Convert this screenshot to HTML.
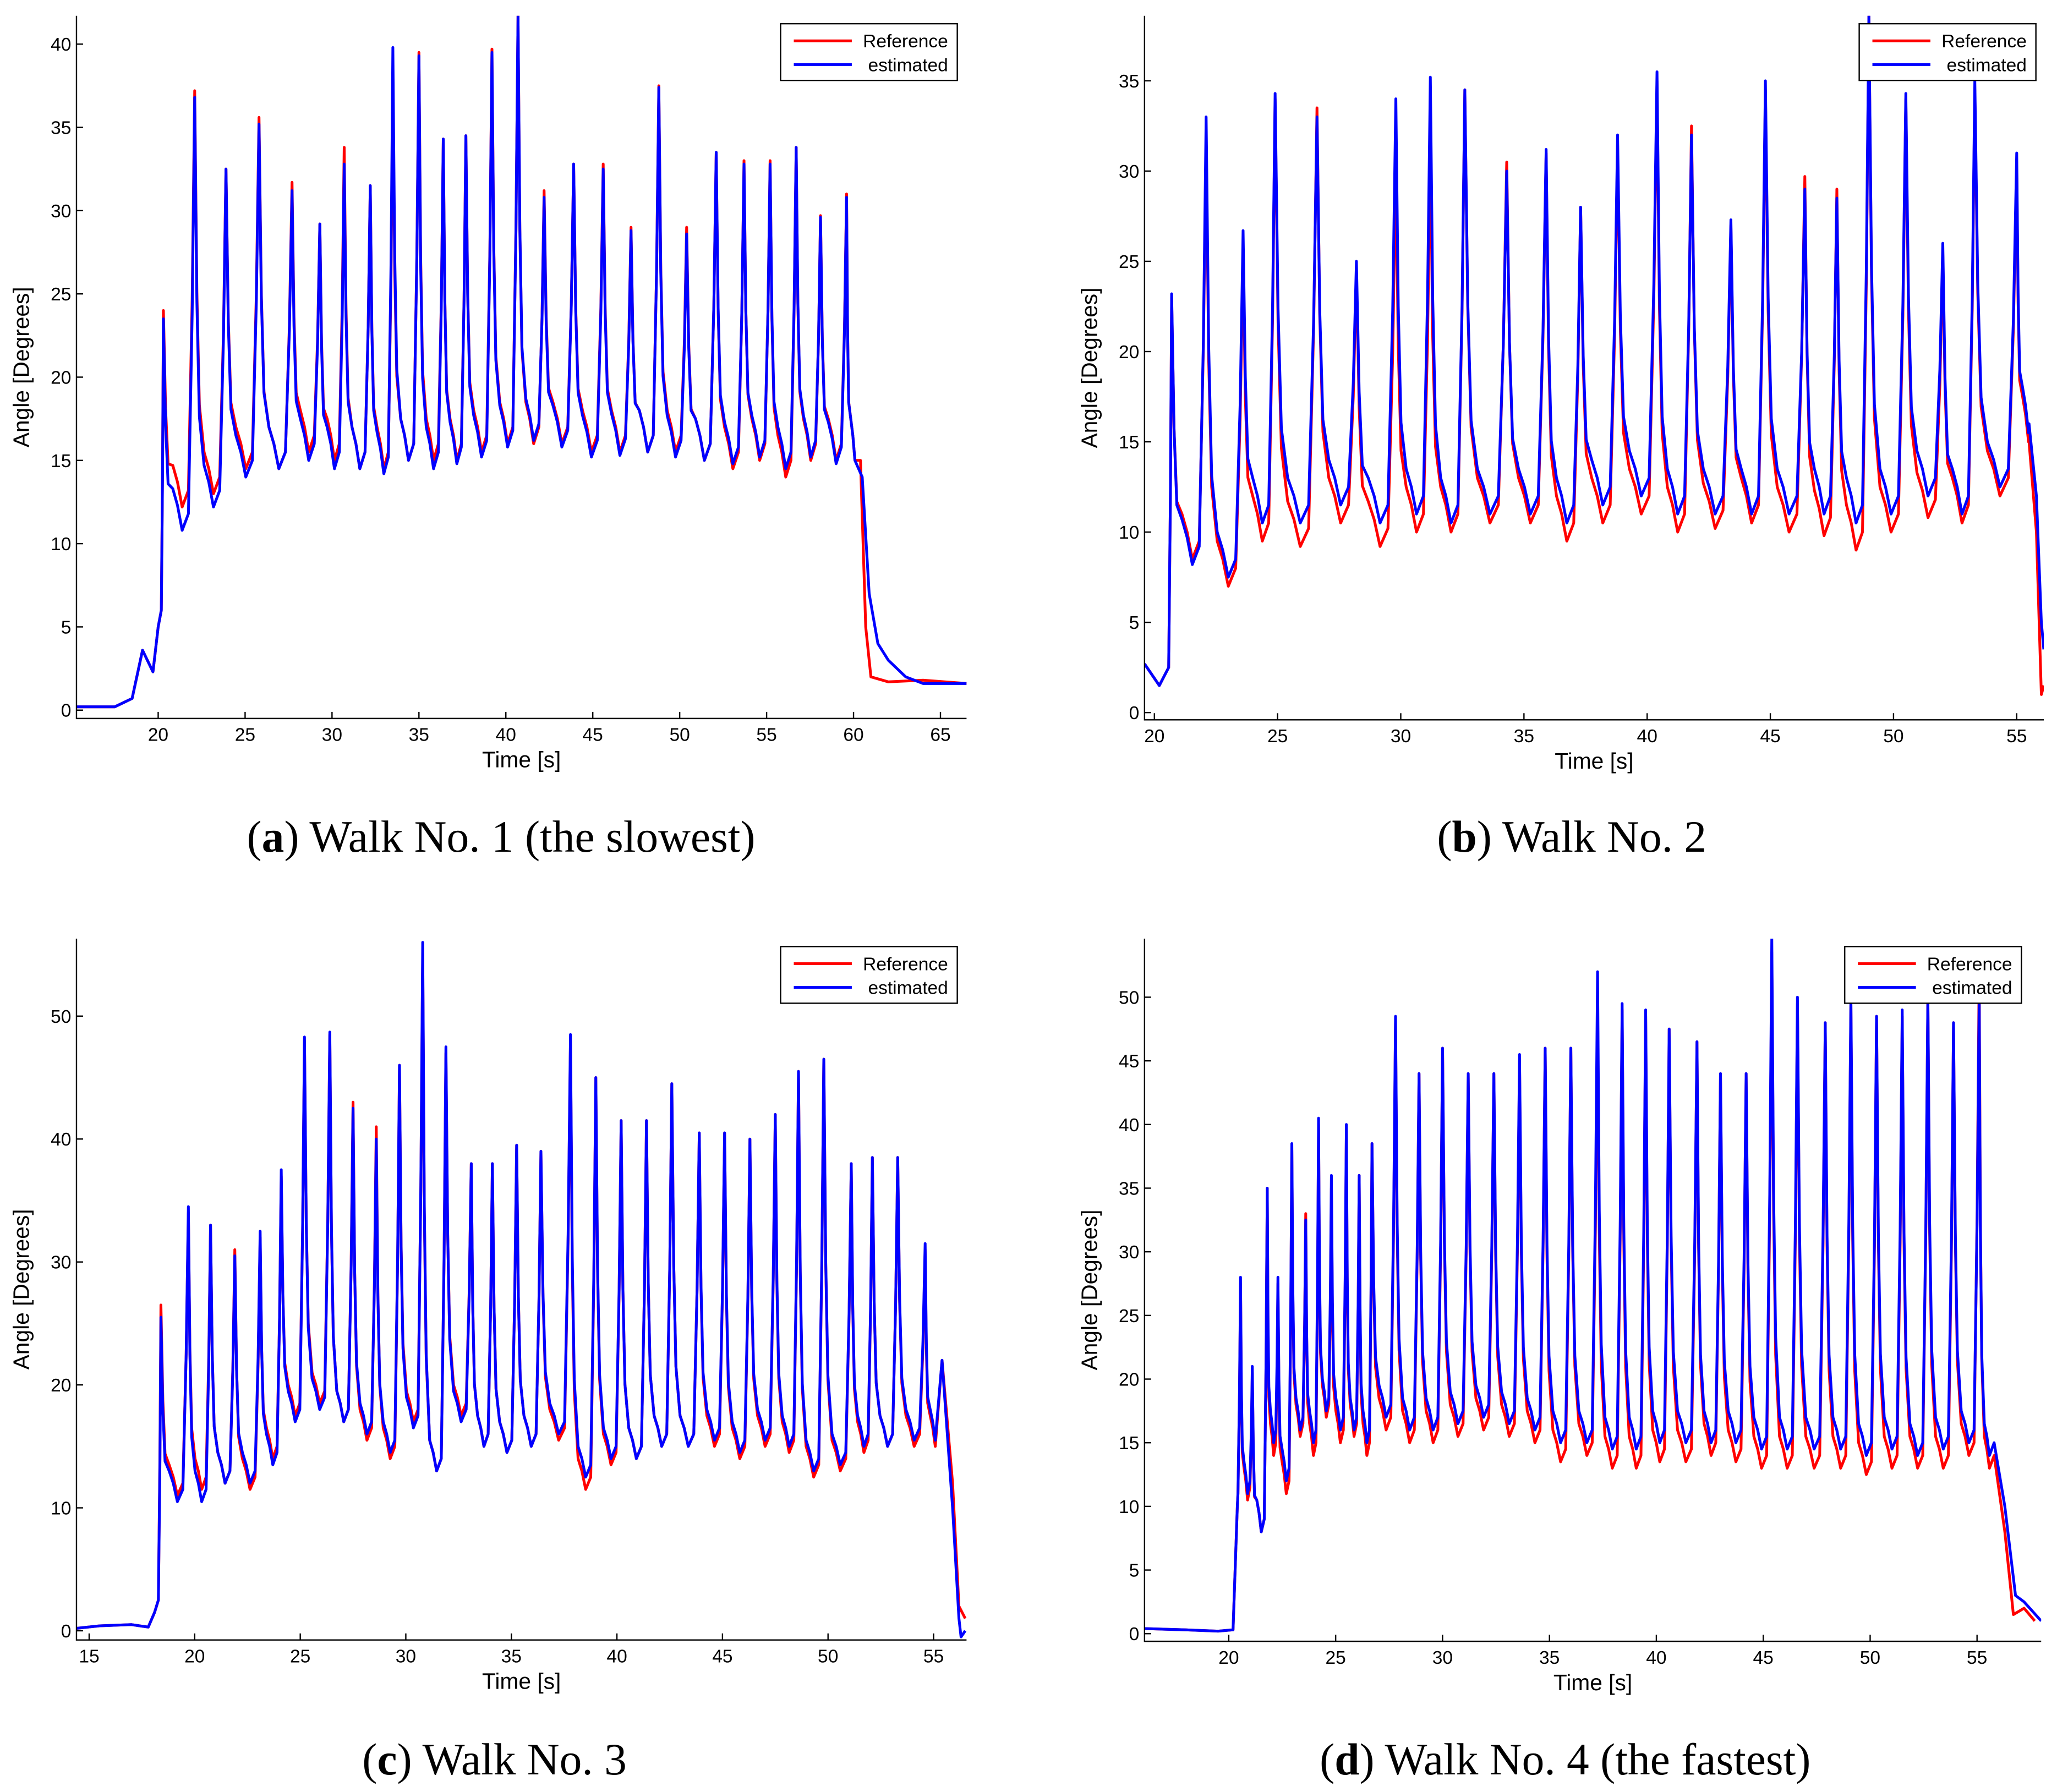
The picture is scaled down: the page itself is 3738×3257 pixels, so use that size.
<!DOCTYPE html>
<html><head><meta charset="utf-8"><style>
html,body{margin:0;padding:0;background:#fff;}
svg{display:block;}
text{font-family:"Liberation Sans",sans-serif;}
.cap{font-family:"Liberation Serif",serif;font-size:34px;}
</style></head><body>
<svg id="fig" width="3738" height="3257" viewBox="0 0 1560 1359.3" preserveAspectRatio="none" xmlns="http://www.w3.org/2000/svg"></svg>
<script>
// ---- Panel a data ----
const aPre = [[15.3,0.2],[17.5,0.2],[18.5,0.7],[19.1,3.6],[19.7,2.3],[20.0,5]];
const aPeakT = [20.3,22.1,23.9,25.8,27.7,29.3,30.7,32.2,33.5,35.0,36.4,37.7,39.2,40.7,42.2,43.9,45.6,47.2,48.8,50.4,52.1,53.7,55.2,56.7,58.1,59.6];
const aRefPeak = [24,37.2,32.5,35.6,31.7,29.2,33.8,31.5,38,39.5,34.3,34.5,39.7,41.7,31.2,32.8,32.8,29,37.5,29,33.5,33,33,33.8,29.7,31];
const aRefValley = [12.2,13,14.5,14.5,15.5,15,14.5,14.5,15,15,15,15.5,16,16,16,15.5,15.5,15.5,15.5,15,14.5,15,14,15,15,15];
const aEstPeak = [23.5,36.8,32.5,35.2,31.2,29.2,32.8,31.5,39.8,39.3,34.3,34.5,39.5,41.7,30.8,32.8,32.5,28.8,37.4,28.6,33.5,32.8,32.8,33.8,29.6,30.8];
const aEstValley = [10.8,12.2,14,14.5,15,14.5,14.5,14.2,15,14.5,14.8,15.2,15.8,16.2,15.8,15.2,15.3,15.5,15.2,15,14.8,15.2,14.5,15.2,14.8,15];
const aRefPost = [[60.4,15],[60.7,5],[61.0,2],[62,1.7],[64,1.8],[66.5,1.6]];
const aEstPost = [[60.5,14],[60.9,7],[61.4,4],[62,3],[63,2],[64,1.6],[66.5,1.6]];
// ---- Panel b data ----
const bPre = [[19.6,2.7],[20.2,1.5]];
const bPeakT = [20.7,22.1,23.6,24.9,26.6,28.2,29.8,31.2,32.6,34.3,35.9,37.3,38.8,40.4,41.8,43.4,44.8,46.4,47.7,49.0,50.5,52.0,53.3,55.0];
const bRefPeak = [23,32,25.5,34,33.5,24.5,30.5,31.5,34.5,30.5,31,28,31.5,35,32.5,27,34.5,29.7,29,38.6,34,25.5,34.5,30.5];
const bRefValley = [8.5,7,9.5,9.2,10.5,9.2,10,10,10.5,10.5,9.5,10.5,11,10,10.2,10.5,10,9.8,9,10,10.8,10.5,12,15];
const bEstPeak = [23.2,33,26.7,34.3,33,25,34,35.2,34.5,30,31.2,28,32,35.5,32,27.3,35,29,28.5,38.6,34.3,26,35,31];
const bEstValley = [8.2,7.5,10.5,10.5,11.5,10.5,11,10.5,11,11,10.5,11.5,12,11,11,11,11,11,10.5,11,12,11,12.5,15.5];
const bRefPost = [[55.5,15],[55.8,10],[56.0,1.0],[56.1,1.5]];
const bEstPost = [[55.5,16],[55.8,12],[56.0,5],[56.1,3.5]];
// ---- Panel c data ----
const cPre = [[14.4,0.2],[15.5,0.4],[17,0.5],[17.8,0.3],[18.1,1.5]];
const cPeakT = [18.4,19.7,20.75,21.9,23.1,24.1,25.2,26.4,27.5,28.6,29.7,30.8,31.9,33.1,34.1,35.25,36.4,37.8,39.0,40.2,41.4,42.6,43.9,45.1,46.3,47.5,48.6,49.8,51.1,52.1,53.3,54.6];
const cRefPeak = [26.5,34,33,31,32,37,48,48.5,43,41,46,55,47,38,38,39.5,39,48,45,41.5,41.5,44.5,40.5,40.5,40,42,45.5,46.5,38,38.5,38.5,31];
const cRefValley = [11,11.5,12,11.5,14,17.5,18.5,17,15.5,14,17,13,17.5,15,14.5,15,15.5,11.5,13.5,14,15,15,15,14,15,14.5,12.5,13,14.5,15,15,15];
const cEstPeak = [25.5,34.5,33,30.5,32.5,37.5,48.3,48.7,42.5,40,46,56,47.5,38,38,39.5,39,48.5,45,41.5,41.5,44.5,40.5,40.5,40,42,45.5,46.5,38,38.5,38.5,31.5];
const cEstValley = [10.5,10.5,12,12,13.5,17,18,17,16,14.5,16.5,13,17,15,14.5,15,16,12.5,14,14,15,15,15.5,14.5,15.5,15,13,13.5,15,15,15.5,15.5];
const cRefPost = [[55.4,22],[55.9,12],[56.2,2],[56.5,1]];
const cEstPost = [[55.4,22],[55.9,10],[56.2,1],[56.3,-0.5],[56.5,0]];
// ---- Panel d data ----
const dPre = [[16.06,0.4],[18,0.3],[19.5,0.2],[20.2,0.3],[20.4,10]];
const dPeakT = [20.55,21.1,21.8,22.3,22.95,23.6,24.2,24.8,25.5,26.1,26.7,27.8,28.9,30.0,31.2,32.4,33.6,34.8,36.0,37.25,38.4,39.5,40.6,41.9,43.0,44.2,45.4,46.6,47.9,49.1,50.3,51.5,52.7,53.9,55.1];
const dRefPeak = [27.5,20.5,35,27.5,38,33,40,35,39.5,36,38.5,48,44,46,44,44,45,46,46,50,49,48.5,47.5,46.5,44,44,53.5,49.5,48,49.5,48.5,48.5,50,48,52];
const dRefValley = [10.5,8,14,11,15.5,14,17,15,15.5,14,16,15,15,15.5,16,15.5,15,13.5,14,13,13,13.5,13.5,14,13.5,13,13,13,13,12.5,13,13,13,14,13];
const dEstPeak = [28,21,35,28,38.5,32.5,40.5,36,40,36,38.5,48.5,44,46,44,44,45.5,46,46,52,49.5,49,47.5,46.5,44,44,54.6,50,48,50,48.5,49,50,48,50];
const dEstValley = [11,8,15,12,16,15,17.5,16,16,15,17,16,16,16.5,17,16.5,16,15,15,14.5,14.5,15,15,15,15,14.5,14.5,14.5,14.5,14,14.5,14,14.5,15,14];
const dRefPost = [[55.8,14],[56.3,8],[56.7,1.5],[57.2,2],[57.7,1]];
const dEstPost = [[55.8,15],[56.3,10],[56.8,3],[57.2,2.5],[58,1]];

const xTicksA=[20,25,30,35,40,45,50,55,60,65], yTicksA=[0,5,10,15,20,25,30,35,40];
const xTicksB=[20,25,30,35,40,45,50,55], yTicksB=[0,5,10,15,20,25,30,35];
const xTicksC=[15,20,25,30,35,40,45,50,55], yTicksC=[0,10,20,30,40,50];
const xTicksD=[20,25,30,35,40,45,50,55], yTicksD=[0,5,10,15,20,25,30,35,40,45,50];

const NS="http://www.w3.org/2000/svg";
const svg=document.getElementById('fig');
function mk(tag,attrs,parent){const e=document.createElementNS(NS,tag);for(const k in attrs)e.setAttribute(k,attrs[k]);(parent||svg).appendChild(e);return e;}

function buildSeries(pre,pT,pV,vV,post){
  const pts=pre.slice();
  for(let i=0;i<pT.length;i++){
    const t=pT[i];
    const gPrev=i>0?t-pT[i-1]:0.6;
    const gNext=i<pT.length-1?pT[i+1]-t:0.8;
    const prevV=i>0?vV[i-1]:pre[pre.length-1][1];
    pts.push([t-gPrev*0.2,prevV+1]);
    pts.push([t-gPrev*0.08,prevV+(pV[i]-prevV)*0.5]);
    pts.push([t,pV[i]]);
    pts.push([t+gNext*0.07,vV[i]+(pV[i]-vV[i])*0.5]);
    pts.push([t+gNext*0.15,vV[i]+(pV[i]-vV[i])*0.22]);
    pts.push([t+gNext*0.3,vV[i]+2.5]);
    pts.push([t+gNext*0.45,vV[i]+1.5]);
    pts.push([t+gNext*0.6,vV[i]]);
  }
  return pts.concat(post);
}

function panel(cfg){
  const g=mk('g',{});
  
  
  const L=cfg.L,R=cfg.R,T=cfg.T,B=cfg.B;
  const sx=v=>L+(v-cfg.x0)/(cfg.x1-cfg.x0)*(R-L);
  const sy=v=>B-(v-cfg.y0)/(cfg.y1-cfg.y0)*(B-T);
  const clip='clip-'+cfg.id;
  const cp=mk('clipPath',{id:clip},g);mk('rect',{x:L,y:T,width:R-L,height:B-T},cp);
  const series=[[cfg.ref,'#ff0000','reference-line'],[cfg.est,'#0000ff','estimated-line']];
  series.forEach(s=>{
    const d=s[0].map((p,i)=>(i?'L':'M')+sx(p[0]).toFixed(2)+' '+sy(p[1]).toFixed(2)).join(' ');
    const p=mk('path',{d:d,fill:'none',stroke:s[1],'stroke-width':2.1,'stroke-linejoin':'round','clip-path':'url(#'+clip+')'},g);
    
    
  });
  const ax=mk('path',{d:`M${L} ${T} L${L} ${B} L${R} ${B}`,fill:'none',stroke:'#000','stroke-width':1},g);
  
  
  cfg.xt.forEach(v=>{
    const x=sx(v);
    mk('line',{x1:x,y1:B,x2:x,y2:B-5,stroke:'#000','stroke-width':1},g);
    const t=mk('text',{x:x,y:B+17,'font-size':14,'text-anchor':'middle'},g);t.textContent=v;
    
    
  });
  cfg.yt.forEach(v=>{
    const y=sy(v);
    mk('line',{x1:L,y1:y,x2:L+5,y2:y,stroke:'#000','stroke-width':1},g);
    const t=mk('text',{x:L-4,y:y+5,'font-size':14,'text-anchor':'end'},g);t.textContent=v;
    
    
  });
  const xl=mk('text',{x:(L+R)/2,y:B+37,'font-size':17,'text-anchor':'middle','xml:space':'preserve'},g);xl.textContent='Time  [s]';
  
  
  const yx=L-36, yy=(T+B)/2;
  const yl=mk('text',{x:yx,y:yy,'font-size':17,'text-anchor':'middle',transform:`rotate(-90 ${yx} ${yy})`,'xml:space':'preserve'},g);yl.textContent='Angle  [Degrees]';
  
  
  const lg=mk('g',{},g);
  
  
  mk('rect',{x:cfg.lx,y:cfg.ly,width:134,height:43,fill:'#fff',stroke:'#000','stroke-width':1},lg);
  mk('line',{x1:cfg.lx+10,y1:cfg.ly+13,x2:cfg.lx+54,y2:cfg.ly+13,stroke:'#ff0000','stroke-width':2.1},lg);
  mk('line',{x1:cfg.lx+10,y1:cfg.ly+31,x2:cfg.lx+54,y2:cfg.ly+31,stroke:'#0000ff','stroke-width':2.1},lg);
  const t1=mk('text',{x:cfg.lx+127,y:cfg.ly+18,'font-size':14,'text-anchor':'end'},lg);t1.textContent='Reference';
  
  
  const t2=mk('text',{x:cfg.lx+127,y:cfg.ly+36,'font-size':14,'text-anchor':'end'},lg);t2.textContent='estimated';
  
  
  const cap=mk('text',{x:cfg.cx,y:cfg.cy,'text-anchor':'middle',class:'cap'},g);
  cap.innerHTML='(<tspan font-weight="bold">'+cfg.letter+'</tspan>) '+cfg.caption;
  
  
}

panel({id:'a',name:'panel-a',L:58,R:733,T:12,B:545,x0:15.3,x1:66.5,y0:-0.5,y1:41.7,xt:xTicksA,yt:yTicksA,
  ref:buildSeries(aPre,aPeakT,aRefPeak,aRefValley,aRefPost),est:buildSeries(aPre,aPeakT,aEstPeak,aEstValley,aEstPost),
  lx:592,ly:18,cx:380,cy:646,letter:'a',caption:'Walk No. 1 (the slowest)'});
panel({id:'b',name:'panel-b',L:868,R:1550,T:12,B:546,x0:19.6,x1:56.1,y0:-0.4,y1:38.6,xt:xTicksB,yt:yTicksB,
  ref:buildSeries(bPre,bPeakT,bRefPeak,bRefValley,bRefPost),est:buildSeries(bPre,bPeakT,bEstPeak,bEstValley,bEstPost),
  lx:1410,ly:18,cx:1192,cy:646,letter:'b',caption:'Walk No. 2'});
panel({id:'c',name:'panel-c',L:58,R:733,T:712,B:1244,x0:14.4,x1:56.56,y0:-0.75,y1:56.3,xt:xTicksC,yt:yTicksC,
  ref:buildSeries(cPre,cPeakT,cRefPeak,cRefValley,cRefPost),est:buildSeries(cPre,cPeakT,cEstPeak,cEstValley,cEstPost),
  lx:592,ly:718,cx:375,cy:1346,letter:'c',caption:'Walk No. 3'});
panel({id:'d',name:'panel-d',L:868,R:1548,T:712,B:1245,x0:16.06,x1:58.0,y0:-0.6,y1:54.6,xt:xTicksD,yt:yTicksD,
  ref:buildSeries(dPre,dPeakT,dRefPeak,dRefValley,dRefPost),est:buildSeries(dPre,dPeakT,dEstPeak,dEstValley,dEstPost),
  lx:1399,ly:718,cx:1187,cy:1346,letter:'d',caption:'Walk No. 4 (the fastest)'});
</script>
</body></html>
